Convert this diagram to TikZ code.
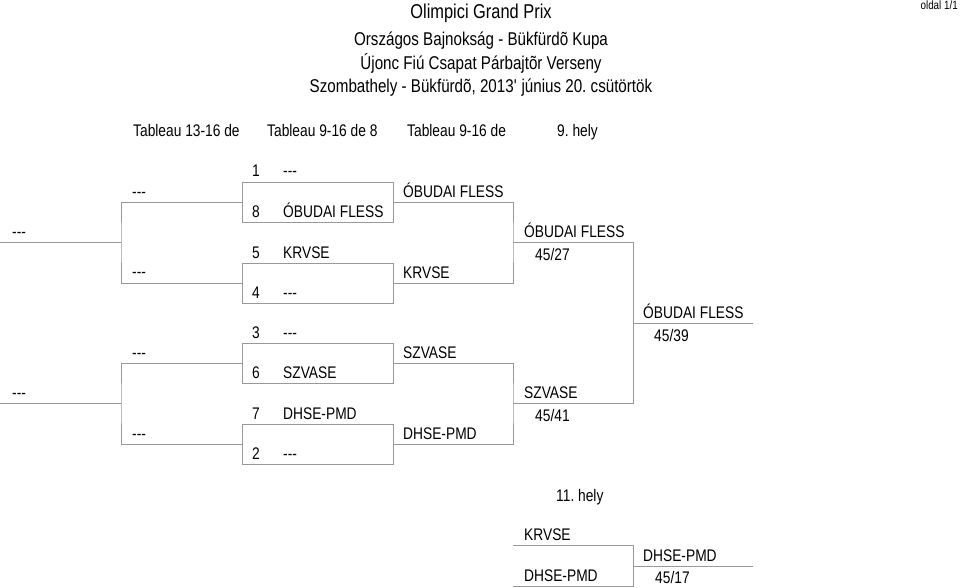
\documentclass[tikz,border=0pt]{standalone}
\usepackage{fontspec}
\setmainfont{Liberation Sans}[FakeStretch=0.82]
\usepackage{tikz}
\usetikzlibrary{positioning}
\frenchspacing
\newcommand{\emptyteam}{\mbox{-}\mbox{-}\mbox{-}}

\begin{document}
\begin{tikzpicture}[
  x=1pt, y=-1pt,
  txt/.style={inner sep=0pt, anchor=base west, font=\fontsize{16.8}{19}\selectfont},
  head/.style={inner sep=0pt, anchor=base, font=\fontsize{18.5}{21}\selectfont},
  ln/.style={draw=black!40, line width=0.9pt},
  slot/.style={draw=black!40, line width=0.9pt, minimum width=151pt, minimum height=40pt, anchor=north west, inner sep=0pt},
]
\useasboundingbox (0,0) rectangle (960,588);

% header
\node[head, font=\fontsize{20}{23}\selectfont] (title) at (481,19) {Olimpici Grand Prix};
\node[head] (cup) at (481,46) {Országos Bajnokság - Bükfürdõ Kupa};
\node[head] (event) at (481,70) {Újonc Fiú Csapat Párbajtõr Verseny};
\node[head] (place) at (481,93) {Szombathely - Bükfürdõ, 2013\textquotesingle{} június 20. csütörtök};
\node[inner sep=0pt, anchor=base east, font=\fontsize{12}{14}\selectfont] (page) at (958,10) {oldal 1/1};

\node[txt] (tab1) at (133,137) {Tableau 13-16 de};
\node[txt] (tab2) at (267,137) {Tableau 9-16 de 8};
\node[txt] (tab3) at (407,137) {Tableau 9-16 de};
\node[txt] (tab4) at (557,137) {9. hely};

% slots
\node[slot] (b1) at (242,182) {};
\node[slot] (b2) at (242,263) {};
\node[slot] (b3) at (242,343) {};
\node[slot] (b4) at (242,424) {};

% joints
\coordinate (a1) at (0,242);
\coordinate (a2) at (0,403);
\coordinate (m1) at (121,242);
\coordinate (m2) at (121,403);
\coordinate (m3) at (513,242);
\coordinate (m4) at (513,403);
\coordinate (m5) at (633,323);
\coordinate (win) at (753,323);

\draw[ln] (a1) -- (m1);
\draw[ln] (a2) -- (m2);
\draw[ln] (b1.west) -| (m1) |- (b2.west);
\draw[ln] (b3.west) -| (m2) |- (b4.west);
\draw[ln] (b1.east) -| (m3) |- (b2.east);
\draw[ln] (b3.east) -| (m4) |- (b4.east);
\draw[ln] (m3) -| (m5) |- (m4);
\draw[ln] (m5) -- (win);

% first columns
\node[txt] (e1) at (12,237) {\emptyteam};
\node[txt] (e2) at (12,398) {\emptyteam};
\node[txt] (f1) at (132,197) {\emptyteam};
\node[txt] (f2) at (132,277) {\emptyteam};
\node[txt] (f3) at (132,358) {\emptyteam};
\node[txt] (f4) at (132,439) {\emptyteam};

% seeds
\node[txt] (n1) at (252,177) {1};   \node[txt] (t1) at (283,177) {\emptyteam};
\node[txt] (n8) at (252,217) {8};   \node[txt] (t8) at (283,217) {ÓBUDAI FLESS};
\node[txt] (n5) at (252,258) {5};   \node[txt] (t5) at (283,258) {KRVSE};
\node[txt] (n4) at (252,298) {4};   \node[txt] (t4) at (283,298) {\emptyteam};
\node[txt] (n3) at (252,338) {3};   \node[txt] (t3) at (283,338) {\emptyteam};
\node[txt] (n6) at (252,378) {6};   \node[txt] (t6) at (283,378) {SZVASE};
\node[txt] (n7) at (252,419) {7};   \node[txt] (t7) at (283,419) {DHSE-PMD};
\node[txt] (n2) at (252,459) {2};   \node[txt] (t2) at (283,459) {\emptyteam};

% winners
\node[txt] (w1) at (403,197) {ÓBUDAI FLESS};
\node[txt] (w2) at (403,278) {KRVSE};
\node[txt] (w3) at (403,358) {SZVASE};
\node[txt] (w4) at (403,439) {DHSE-PMD};
\node[txt] (s1) at (524,237) {ÓBUDAI FLESS};
\node[txt] (r1) at (535,260) {45/27};
\node[txt] (s2) at (524,398) {SZVASE};
\node[txt] (r2) at (535,421) {45/41};
\node[txt] (champ) at (643,318) {ÓBUDAI FLESS};
\node[txt] (r3) at (654,341) {45/39};

% 11. hely
\node[txt] (hely) at (556,501) {11. hely};
\coordinate (c1) at (513,545);
\coordinate (c2) at (513,586);
\coordinate (c3) at (633,566);
\coordinate (c4) at (753,566);
\draw[ln] (c1) -| (c3) |- (c2);
\draw[ln] (c3) -- (c4);
\node[txt] (k1) at (524,540) {KRVSE};
\node[txt] (k2) at (524,581) {DHSE-PMD};
\node[txt] (k3) at (643,561) {DHSE-PMD};
\node[txt] (r4) at (655,583) {45/17};
\end{tikzpicture}
\end{document}
